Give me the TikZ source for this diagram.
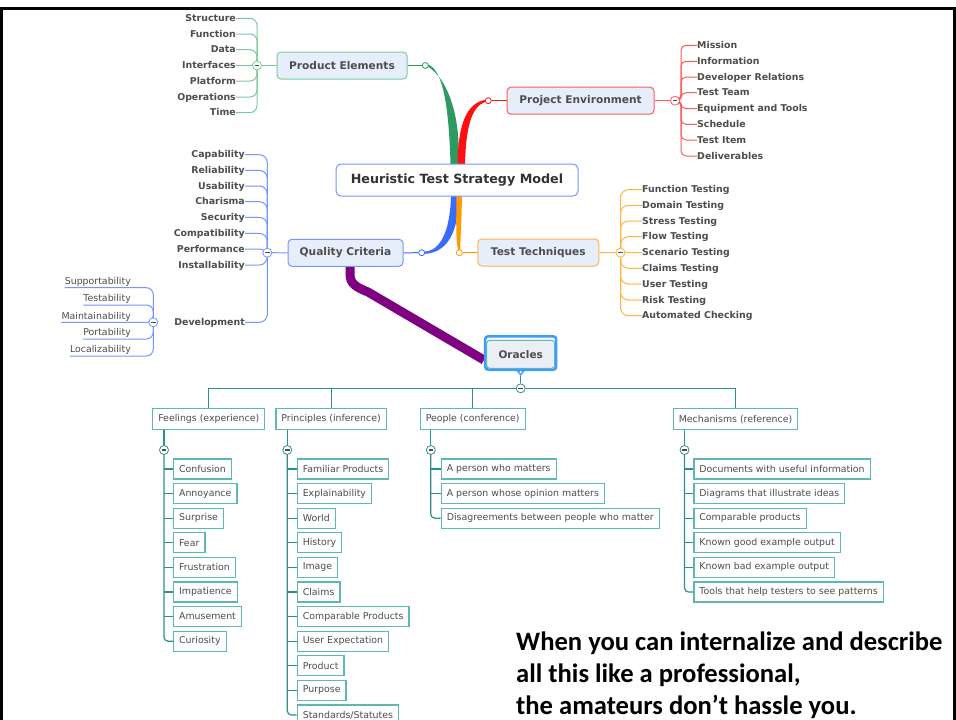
\documentclass[tikz,border=0pt]{standalone}
\usepackage{fontspec}
\setmainfont{DejaVu Sans}
\newfontfamily\notefont{Carlito}
\usetikzlibrary{backgrounds}

\definecolor{labelgray}{HTML}{4D4D4D}
\definecolor{titlegray}{HTML}{333333}
\definecolor{topicfill}{HTML}{E6EEFB}
\definecolor{pegreen}{HTML}{2E9A62}
\definecolor{pelight}{HTML}{7CCB9C}
\definecolor{pjred}{HTML}{FF1010}
\definecolor{pjlight}{HTML}{FF5A5A}
\definecolor{qcblue}{HTML}{3A6BFF}
\definecolor{qclight}{HTML}{7396FF}
\definecolor{ttorange}{HTML}{FF9A00}
\definecolor{ttlight}{HTML}{FFB444}
\definecolor{orpurple}{HTML}{7F0080}
\definecolor{tealline}{HTML}{2E8F8F}
\definecolor{tealbox}{HTML}{5DB7B4}
\definecolor{selblue}{HTML}{3C9CFF}
\definecolor{oraclefill}{HTML}{ECEEF5}

\tikzset{
  leafl/.style={font=\fontsize{9.4}{11}\selectfont\bfseries, text=labelgray,
    inner sep=0pt, text height=7pt, text depth=1pt, anchor=east},
  leafr/.style={leafl, anchor=west},
  sub/.style={font=\fontsize{9.4}{11}\selectfont, text=labelgray,
    inner sep=0pt, text height=7pt, text depth=3pt, anchor=south east},
  hub/.style={draw=qclight, line width=1pt, fill=white, rounded corners=5pt,
    minimum width=242pt, minimum height=32pt, inner sep=0pt,
    font=\fontsize{12.7}{15}\selectfont\bfseries, text=titlegray},
  topic/.style={line width=1pt, rounded corners=4pt, fill=topicfill,
    font=\fontsize{10.6}{12}\selectfont\bfseries, text=labelgray,
    minimum height=27pt, inner sep=0pt},
  fold/.style={circle, fill=white, line width=0.8pt, minimum size=9pt, inner sep=0pt,
    path picture={\draw[labelgray, line width=1.1pt]
      ([xshift=-2.3pt]path picture bounding box.center) --
      ([xshift=2.3pt]path picture bounding box.center);}},
  dot/.style={circle, fill=white, line width=0.8pt, minimum size=6pt, inner sep=0pt},
  twig/.style={line width=1pt},
  obranch/.style={draw=tealbox, line width=1.2pt, fill=white,
    font=\fontsize{9.4}{11}\selectfont, text=labelgray,
    minimum height=21pt, inner xsep=5.5pt, inner ysep=0pt},
  oitem/.style={obranch, minimum height=20pt, anchor=west},
  treeline/.style={tealline, line width=1.2pt},
  note/.style={font=\notefont\bfseries\fontsize{26.6}{32}\selectfont, text=black,
    anchor=base west, inner sep=0pt},
}

\begin{document}
\begin{tikzpicture}[x=1pt,y=-1pt]
\useasboundingbox (0,0) rectangle (956,720);

% ---------- central topic ----------
\node[hub] (htsm) at (457,180) {Heuristic Test Strategy Model};

% ---------- main topics ----------
\node[topic, draw=pelight, minimum width=130pt] (pe) at (342,65.5) {Product Elements};
\node[topic, draw=pjlight, minimum width=147pt] (pj) at (580.5,100.7) {Project Environment};
\node[topic, draw=qclight, minimum width=115pt] (qc) at (345.5,252.8) {Quality Criteria};
\node[topic, draw=ttlight, minimum width=121pt] (tt) at (538.3,252.5) {Test Techniques};

% branch end dots
\node[dot, draw=pegreen] (pedot) at (425.3,65.5) {};
\node[dot, draw=pjred] (pjdot) at (488.3,100.7) {};
\node[dot, draw=qcblue] (qcdot) at (421.7,252.7) {};
\node[dot, draw=ttorange] (ttdot) at (459.3,252.7) {};

% collapse buttons
\node[fold, draw=pelight] (pefold) at (257,65.5) {};
\node[fold, draw=pjlight] (pjfold) at (675,100.7) {};
\node[fold, draw=qclight] (qcfold) at (267.3,252.7) {};
\node[fold, draw=ttlight] (ttfold) at (620.5,252.7) {};
\node[fold, draw=qclight] (devfold) at (153.3,322.3) {};

% ---------- Product Elements ----------
\foreach \i/\y/\t in {1/18.3/Structure, 2/34/Function, 3/49.7/Data,
    4/65.5/Interfaces, 5/81/Platform, 6/97/Operations, 7/112.7/Time}
  \node[leafl] (pe\i) at (236,\y) {\t};

% ---------- Project Environment ----------
\foreach \i/\y/\t in {1/45.3/Mission, 2/61.3/Information, 3/77/Developer Relations,
    4/92.7/Test Team, 5/108.7/Equipment and Tools, 6/124.3/Schedule,
    7/140/Test Item, 8/156/Deliverables}
  \node[leafr] (pj\i) at (697,\y) {\t};

% ---------- Quality Criteria ----------
\foreach \i/\y/\t in {1/154.7/Capability, 2/170.3/Reliability, 3/186/Usability,
    4/201.7/Charisma, 5/217.3/Security, 6/233.3/Compatibility,
    7/249/Performance, 8/265/Installability, 9/322.3/Development}
  \node[leafl] (qc\i) at (245,\y) {\t};

\foreach \i/\y/\t in {1/287.7/Supportability, 2/305/Testability, 3/322.3/Maintainability,
    4/339/Portability, 5/356/Localizability}
  \node[sub] (dv\i) at (131,\y) {\t};

% ---------- Test Techniques ----------
\foreach \i/\y/\t in {1/189.7/Function Testing, 2/205.3/Domain Testing,
    3/221/Stress Testing, 4/236.7/Flow Testing, 5/252.7/Scenario Testing,
    6/268.3/Claims Testing, 7/284/User Testing, 8/300/Risk Testing,
    9/315.7/Automated Checking}
  \node[leafr] (tt\i) at (642,\y) {\t};

% ---------- Oracles ----------
\node[draw=selblue, fill=white, line width=2.5pt, rounded corners=3pt,
  minimum width=71pt, minimum height=33.5pt, inner sep=0pt] (orsel) at (520.7,353) {};
\node[draw=tealbox, fill=oraclefill, line width=1pt, rounded corners=3pt,
  minimum width=68pt, minimum height=28pt, inner sep=0pt,
  font=\fontsize{10.5}{12}\selectfont\bfseries, text=labelgray] (or) at (520.7,354.3) {Oracles};
\fill[selblue] (515.7,369.5) -- (525.7,369.5) -- (520.7,376) -- cycle;
\fill[white] (520.7,372.3) circle (1.4pt);
\coordinate (orpin) at (520.7,376);
\node[fold, draw=tealline] (orfold) at (520.7,388.3) {};

\node[obranch] (fl) at (208.8,419.2) {Feelings (experience)};
\node[obranch] (pr) at (331.1,419.2) {Principles (inference)};
\node[obranch] (pp) at (472.7,419.2) {People (conference)};
\node[obranch] (mc) at (735.5,419.2) {Mechanisms (reference)};

\node[fold, draw=tealline] (flfold) at (164,450) {};
\node[fold, draw=tealline] (prfold) at (287.3,450) {};
\node[fold, draw=tealline] (ppfold) at (430.8,450) {};
\node[fold, draw=tealline] (mcfold) at (684.5,450) {};

\foreach \i/\y/\t in {1/469/Confusion, 2/493.6/Annoyance, 3/518.2/Surprise,
    4/542.8/Fear, 5/567.4/Frustration, 6/592/Impatience, 7/616.6/Amusement,
    8/641.2/Curiosity}
  \node[oitem] (fl\i) at (173,\y) {\t};

\foreach \i/\y/\t in {1/469/Familiar Products, 2/493.6/Explainability, 3/518.2/World,
    4/542.8/History, 5/567.4/Image, 6/592/Claims, 7/616.6/Comparable Products,
    8/641.2/User Expectation, 9/665.8/Product, 10/690.4/Purpose,
    11/715/{Standards/Statutes}}
  \node[oitem] (pr\i) at (296.7,\y) {\t};

\foreach \i/\y/\t in {1/469/A person who matters, 2/493.6/A person whose opinion matters,
    3/518.2/Disagreements between people who matter}
  \node[oitem] (pp\i) at (440.7,\y) {\t};

\foreach \i/\y/\t in {1/469/Documents with useful information,
    2/493.6/Diagrams that illustrate ideas, 3/518.2/Comparable products,
    4/542.8/Known good example output, 5/567.4/Known bad example output,
    6/592/Tools that help testers to see patterns}
  \node[oitem] (mc\i) at (693.3,\y) {\t};

% ---------- closing remark ----------
\node[note] (t1) at (516,650) {When you can internalize and describe};
\node[note] (t2) at (516,682) {all this like a professional,};
\node[note] (t3) at (516,714) {the amateurs don’t hassle you.};

% ---------- frame ----------
\draw[black, line width=3pt] (1.5,720) -- (1.5,8) -- (954.5,8) -- (954.5,720);

% ---------- connectors, behind the nodes ----------
\begin{pgfonlayer}{background}
  \fill[white] (0,0) rectangle (956,720);

  % tapered main branches
  \fill[pegreen] (450.5,164) .. controls (449,112) and (444,70) .. (428,64.6)
    -- (428,66.6) .. controls (446,78) and (461,112) .. (458.5,164) -- cycle;
  \fill[pjred] (457.5,164) .. controls (458,126) and (466,103) .. (485.5,99.8)
    -- (485.5,101.6) .. controls (471,107) and (466,128) .. (465,164) -- cycle;
  \fill[qcblue] (451,196) .. controls (450,232) and (440,251) .. (424.5,251.6)
    -- (424.5,253.8) .. controls (446,253) and (459,234) .. (458.5,196) -- cycle;
  \fill[ttorange] (456.5,196) .. controls (456,226) and (456,244) .. (458.3,250.2)
    -- (460.3,250.2) .. controls (460.3,240) and (461.5,222) .. (462,196) -- cycle;

  % topic stems
  \draw[twig, pegreen] (pe.east) -- (pedot);
  \draw[twig, pelight] (pe.west) -- (pefold);
  \draw[twig, pjred] (pjdot) -- (pj.west);
  \draw[twig, pjlight] (pj.east) -- (pjfold);
  \draw[twig, qcblue] (qc.east) -- (qcdot);
  \draw[twig, qclight] (qc.west) -- (qcfold);
  \draw[twig, ttorange] (ttdot) -- (tt.west);
  \draw[twig, ttlight] (tt.east) -- (ttfold);

  % leaves
  \foreach \i in {1,...,7}
    \draw[twig, pelight, rounded corners=7pt] (pe\i.east) -| (pefold.center);
  \foreach \i in {1,...,8}
    \draw[twig, pjlight, rounded corners=5pt] (pjfold.center) -- ++(6,0) |- (pj\i.west);
  \foreach \i in {1,...,9}
    \draw[twig, qclight, rounded corners=8pt] (qc\i.east) -| (qcfold.center);
  \foreach \i in {1,...,5}
    \draw[twig, qclight, rounded corners=7pt] (dv\i.south west) -- (dv\i.south east) -| (devfold.center);
  \foreach \i in {1,...,9}
    \draw[twig, ttlight, rounded corners=8pt] (ttfold.center) |- (tt\i.west);

  % oracle branch
  \draw[orpurple, line width=9pt] ([xshift=4.5pt]qc.south) -- (350,274)
    .. controls (350,284) and (356,287) .. (368,292) -- ([yshift=-7pt]orsel.west);

  % oracle tree
  \draw[treeline] (orpin) -- (orfold);
  \draw[treeline] (fl.north) -- (fl.north |- orfold.center) -- (mc.north |- orfold.center) -- (mc.north);
  \draw[treeline] (pr.north) -- (pr.north |- orfold.center);
  \draw[treeline] (pp.north) -- (pp.north |- orfold.center);

  \draw[treeline] (flfold |- fl.south) -- (flfold.center);
  \draw[treeline] (prfold |- pr.south) -- (prfold.center);
  \draw[treeline] (ppfold |- pp.south) -- (ppfold.center);
  \draw[treeline] (mcfold |- mc.south) -- (mcfold.center);

  \draw[treeline, rounded corners=4pt] (flfold.center) |- (fl8.west);
  \foreach \i in {1,...,7} \draw[treeline] (flfold.center |- fl\i.west) -- (fl\i.west);
  \draw[treeline, rounded corners=4pt] (prfold.center) |- (pr11.west);
  \foreach \i in {1,...,10} \draw[treeline] (prfold.center |- pr\i.west) -- (pr\i.west);
  \draw[treeline, rounded corners=4pt] (ppfold.center) |- (pp3.west);
  \foreach \i in {1,2} \draw[treeline] (ppfold.center |- pp\i.west) -- (pp\i.west);
  \draw[treeline, rounded corners=4pt] (mcfold.center) |- (mc6.west);
  \foreach \i in {1,...,5} \draw[treeline] (mcfold.center |- mc\i.west) -- (mc\i.west);
\end{pgfonlayer}
\end{tikzpicture}
\end{document}
